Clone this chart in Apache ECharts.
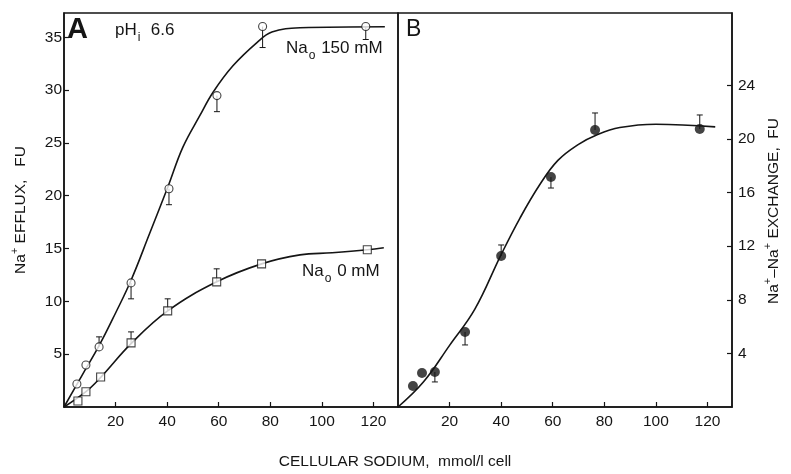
<!DOCTYPE html>
<html>
<head>
<meta charset="utf-8">
<script src="https://cdn.jsdelivr.net/npm/echarts@6/dist/echarts.min.js"></script>
<style>html,body{margin:0;padding:0;background:#fff}#c{width:791px;height:474px}</style>
</head>
<body>
<div id="c"></div>
<script>
// ---- tick labels ----
const xTicks = [20, 40, 60, 80, 100, 120];
const yTicksA = [5, 10, 15, 20, 25, 30, 35];
const yTicksB = [4, 8, 12, 16, 20, 24];

// ---- Panel A, Na_o 150 mM (open circles) ----
const a150X = [5, 8.5, 13.6, 26, 40.7, 59.3, 77, 117];
const a150Y = [2.18, 3.98, 5.69, 11.75, 20.66, 29.48, 36.02, 36.02];
// error bars: x, from (mean), to (end)
const a150Err = [[13.6, 5.69, 6.64], [26, 11.75, 10.24], [40.7, 20.66, 19.15], [59.3, 29.48, 27.96], [77, 36.02, 34.03], [117, 36.02, 34.79]];
// fitted curve
const a150CurveX = [0, 7, 13.6, 20, 26, 33, 40.3, 46.1, 52.7, 57.8, 65.5, 74.8, 80.6, 91.5, 124.4];
const a150CurveY = [0, 3.0, 5.8, 8.9, 12.0, 16.3, 20.85, 24.6, 27.6, 29.8, 32.3, 34.5, 35.5, 35.9, 36.0];

// ---- Panel A, Na_o 0 mM (open squares) ----
const a0X = [5.4, 8.5, 14.2, 26, 40.2, 59.2, 76.6, 117.6];
const a0Y = [0.57, 1.45, 2.84, 6.07, 9.1, 11.85, 13.55, 14.88];
const a0Err = [[26, 6.07, 7.11], [40.2, 9.1, 10.24], [59.2, 11.85, 13.08]];
const a0CurveX = [0, 8.5, 14.2, 26, 40.2, 59.2, 76.6, 91.5, 104, 117.6, 124];
const a0CurveY = [0, 1.45, 2.8, 6.0, 9.1, 11.85, 13.55, 14.4, 14.6, 14.88, 15.07];

// ---- Panel B, Na+-Na+ exchange (filled circles) ----
const bX = [5.8, 9.3, 14.3, 26, 40, 59.3, 76.4, 117];
const bY = [1.57, 2.54, 2.61, 5.6, 11.27, 17.16, 20.67, 20.75];
const bErr = [[14.3, 2.61, 1.87], [26, 5.6, 4.63], [40, 11.27, 12.09], [59.3, 17.16, 16.34], [76.4, 20.67, 21.94], [117, 20.75, 21.79]];
const bCurveX = [0, 10, 20, 29.8, 39.8, 47.3, 55, 62, 70, 77, 86, 100, 123];
const bCurveY = [0, 1.9, 4.6, 7.3, 11.3, 14.1, 16.6, 18.4, 19.6, 20.3, 20.85, 21.1, 20.9];

const zip = (xs, ys) => xs.map((x, i) => [x, ys[i]]);
const FONT = '"Liberation Sans", Arial, Helvetica, sans-serif';
const INK = '#151515';

function errRender(params, api) {
  const p1 = api.coord([api.value(0), api.value(1)]);
  const p2 = api.coord([api.value(0), api.value(2)]);
  return {
    type: 'group',
    children: [
      { type: 'line', shape: { x1: p1[0], y1: p1[1], x2: p2[0], y2: p2[1] }, style: { stroke: INK, lineWidth: 1 } },
      { type: 'line', shape: { x1: p2[0] - 3, y1: p2[1], x2: p2[0] + 3, y2: p2[1] }, style: { stroke: INK, lineWidth: 1 } }
    ]
  };
}

function xAxisCfg(gi) {
  return {
    gridIndex: gi, type: 'value', min: 0, max: 129.5,
    axisLine: { show: true, onZero: false, lineStyle: { color: INK, width: 1.5 } },
    axisTick: { show: true, inside: true, length: 5, customValues: xTicks, lineStyle: { color: INK, width: 1.2 } },
    axisLabel: { customValues: xTicks, fontSize: 15.5, color: INK, fontFamily: FONT, margin: 7 },
    splitLine: { show: false }
  };
}

const subRich = {
  n: { fontSize: 17, fontFamily: FONT, lineHeight: 22, verticalAlign: 'top' },
  s: { fontSize: 12, fontFamily: FONT, lineHeight: 12, padding: [10, 1, 0, 1], verticalAlign: 'top' }
};
const supRich = {
  n: { fontSize: 15.5, fontFamily: FONT, lineHeight: 20, verticalAlign: 'bottom' },
  p: { fontSize: 11, fontFamily: FONT, lineHeight: 11, verticalAlign: 'top' }
};

const option = {
  animation: false,
  backgroundColor: '#fff',
  grid: [
    { left: 64, top: 13, width: 334, height: 394, show: true, borderColor: INK, borderWidth: 1.5, backgroundColor: 'transparent' },
    { left: 398, top: 13, width: 334, height: 394, show: true, borderColor: INK, borderWidth: 1.5, backgroundColor: 'transparent' }
  ],
  xAxis: [xAxisCfg(0), xAxisCfg(1)],
  yAxis: [
    {
      gridIndex: 0, type: 'value', min: 0, max: 37.3, position: 'left',
      axisLine: { show: true, onZero: false, lineStyle: { color: INK, width: 1.5 } },
      axisTick: { show: true, inside: true, length: 5, customValues: yTicksA, lineStyle: { color: INK, width: 1.2 } },
      axisLabel: { customValues: yTicksA, fontSize: 15.5, color: INK, fontFamily: FONT, margin: 2 },
      splitLine: { show: false }
    },
    {
      gridIndex: 1, type: 'value', min: 0, max: 29.4, position: 'right',
      axisLine: { show: true, onZero: false, lineStyle: { color: INK, width: 1.5 } },
      axisTick: { show: true, inside: true, length: 5, customValues: yTicksB, lineStyle: { color: INK, width: 1.2 } },
      axisLabel: { customValues: yTicksB, fontSize: 15.5, color: INK, fontFamily: FONT, margin: 6 },
      splitLine: { show: false }
    }
  ],
  series: [
    { type: 'line', xAxisIndex: 0, yAxisIndex: 0, data: zip(a150CurveX, a150CurveY), showSymbol: false, smooth: 0.4, lineStyle: { color: INK, width: 1.6 }, z: 2 },
    { type: 'line', xAxisIndex: 0, yAxisIndex: 0, data: zip(a0CurveX, a0CurveY), showSymbol: false, smooth: 0.4, lineStyle: { color: INK, width: 1.6 }, z: 2 },
    { type: 'line', xAxisIndex: 1, yAxisIndex: 1, data: zip(bCurveX, bCurveY), showSymbol: false, smooth: 0.4, lineStyle: { color: INK, width: 1.6 }, z: 2 },
    { type: 'custom', xAxisIndex: 0, yAxisIndex: 0, data: a150Err, renderItem: errRender, encode: { x: 0, y: [1, 2] }, z: 3 },
    { type: 'custom', xAxisIndex: 0, yAxisIndex: 0, data: a0Err, renderItem: errRender, encode: { x: 0, y: [1, 2] }, z: 3 },
    { type: 'custom', xAxisIndex: 1, yAxisIndex: 1, data: bErr, renderItem: errRender, encode: { x: 0, y: [1, 2] }, z: 3 },
    { type: 'scatter', xAxisIndex: 0, yAxisIndex: 0, data: zip(a150X, a150Y), symbol: 'circle', symbolSize: 8, itemStyle: { color: '#fff', borderColor: INK, borderWidth: 1.1 }, z: 5 },
    { type: 'scatter', xAxisIndex: 0, yAxisIndex: 0, data: zip(a0X, a0Y), symbol: 'rect', symbolSize: 8, itemStyle: { color: '#fff', borderColor: INK, borderWidth: 1.1 }, z: 5 },
    { type: 'scatter', xAxisIndex: 1, yAxisIndex: 1, data: zip(bX, bY), symbol: 'circle', symbolSize: 10, itemStyle: { color: INK }, z: 5 }
  ],
  graphic: [
    { type: 'text', left: 67, top: 15, style: { text: 'A', fontSize: 29, fontWeight: 'bold', fontFamily: FONT, fill: INK } },
    { type: 'text', left: 406, top: 18, style: { text: 'B', fontSize: 23, fontFamily: FONT, fill: INK } },
    { type: 'text', left: 115, top: 22, style: { text: '{n|pH}{s|i}{n|  6.6}', fontFamily: FONT, fill: INK, rich: subRich } },
    { type: 'text', left: 286, top: 40, style: { text: '{n|Na}{s|o}{n| 150 mM}', fontFamily: FONT, fill: INK, rich: subRich } },
    { type: 'text', left: 302, top: 263, style: { text: '{n|Na}{s|o}{n| 0 mM}', fontFamily: FONT, fill: INK, rich: subRich } },
    { type: 'text', x: 19, y: 210, rotation: Math.PI / 2, style: { text: '{n|Na}{p|+}{n| EFFLUX,   FU}', align: 'center', verticalAlign: 'middle', fontFamily: FONT, fill: INK, rich: supRich } },
    { type: 'text', x: 772, y: 211, rotation: Math.PI / 2, style: { text: '{n|Na}{p|+}{n|\u2013Na}{p|+}{n| EXCHANGE,  FU}', align: 'center', verticalAlign: 'middle', fontFamily: FONT, fill: INK, rich: supRich } },
    { type: 'text', x: 395, y: 462, style: { text: 'CELLULAR SODIUM,  mmol/l cell', align: 'center', verticalAlign: 'middle', fontSize: 15.5, fontFamily: FONT, fill: INK } }
  ]
};

const chart = echarts.init(document.getElementById('c'), null, { renderer: 'canvas' });
chart.setOption(option);
</script>
</body>
</html>
